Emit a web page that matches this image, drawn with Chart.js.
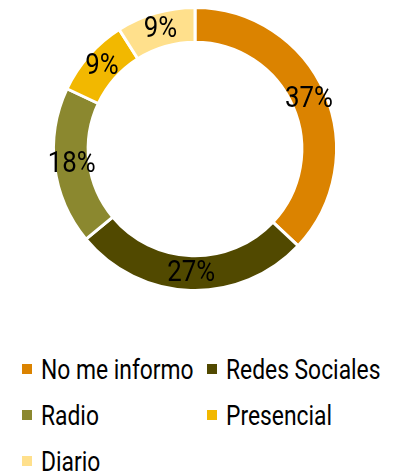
<!DOCTYPE html>
<html>
<head>
<meta charset="utf-8">
<script src="https://cdn.jsdelivr.net/npm/chart.js@4"></script>
<style>
  body { margin: 0; background: #fff; }
  #wrap { position: relative; width: 393px; height: 476px; }
  #chartBox { position: absolute; left: 0; top: 0; width: 393px; height: 298px; }
  #legend {
    position: absolute; left: 22px; top: 346px;
    display: grid; grid-template-columns: 185px 185px; grid-auto-rows: 46px;
    font-family: Roboto, sans-serif;
    font-size: 28px; color: #000;
  }
  #legend .item { display: flex; align-items: center; white-space: nowrap; }
  #legend .box { width: 10px; height: 10px; margin-right: 9px; flex: none; }
  #legend .txt { display: inline-block; transform: scaleX(0.815); transform-origin: left center; }
</style>
</head>
<body>
<div id="wrap">
  <div id="chartBox"><canvas id="myChart" width="393" height="298"></canvas></div>
  <div id="legend"></div>
</div>
<script>
// categories and values (percent)
const categories = ["No me informo", "Redes Sociales", "Radio", "Presencial", "Diario"];
const values = [37, 27, 18, 9, 9];
const colors = ["#DB8300", "#514900", "#8B882F", "#F2B800", "#FFE08C"];

const labelFont = "30px Roboto, sans-serif";

// draw the percent labels on each slice (squeezed, the original font is condensed)
const sliceLabels = {
  id: "sliceLabels",
  afterDatasetsDraw(chart) {
    const ctx = chart.ctx;
    const meta = chart.getDatasetMeta(0);
    meta.data.forEach((arc, i) => {
      const p = arc.tooltipPosition();
      ctx.save();
      ctx.translate(p.x, p.y);
      ctx.scale(0.86, 1);
      ctx.font = labelFont;
      ctx.fillStyle = "#000";
      ctx.textAlign = "center";
      ctx.textBaseline = "middle";
      ctx.fillText(values[i] + "%", 0, 0);
      ctx.restore();
    });
  }
};

// html legend laid out as a two column grid
const htmlLegend = {
  id: "htmlLegend",
  afterUpdate(chart) {
    const container = document.getElementById("legend");
    container.innerHTML = "";
    const items = chart.options.plugins.legend.labels.generateLabels(chart);
    items.forEach((item) => {
      const div = document.createElement("div");
      div.className = "item";
      const box = document.createElement("span");
      box.className = "box";
      box.style.background = item.fillStyle;
      const text = document.createElement("span");
      text.className = "txt";
      text.textContent = item.text;
      div.appendChild(box);
      div.appendChild(text);
      container.appendChild(div);
    });
  }
};

const ctx = document.getElementById("myChart").getContext("2d");
new Chart(ctx, {
  type: "doughnut",
  data: {
    labels: categories,
    datasets: [{
      data: values,
      backgroundColor: colors,
      borderColor: "#fff",
      borderWidth: 3,
    }],
  },
  options: {
    responsive: false,
    animation: false,
    cutout: "75.5%",
    layout: { padding: { top: 6, bottom: 6, left: 0, right: 3 } },
    plugins: {
      legend: { display: false },
      tooltip: { enabled: false },
    },
  },
  plugins: [sliceLabels, htmlLegend],
});
</script>
</body>
</html>
